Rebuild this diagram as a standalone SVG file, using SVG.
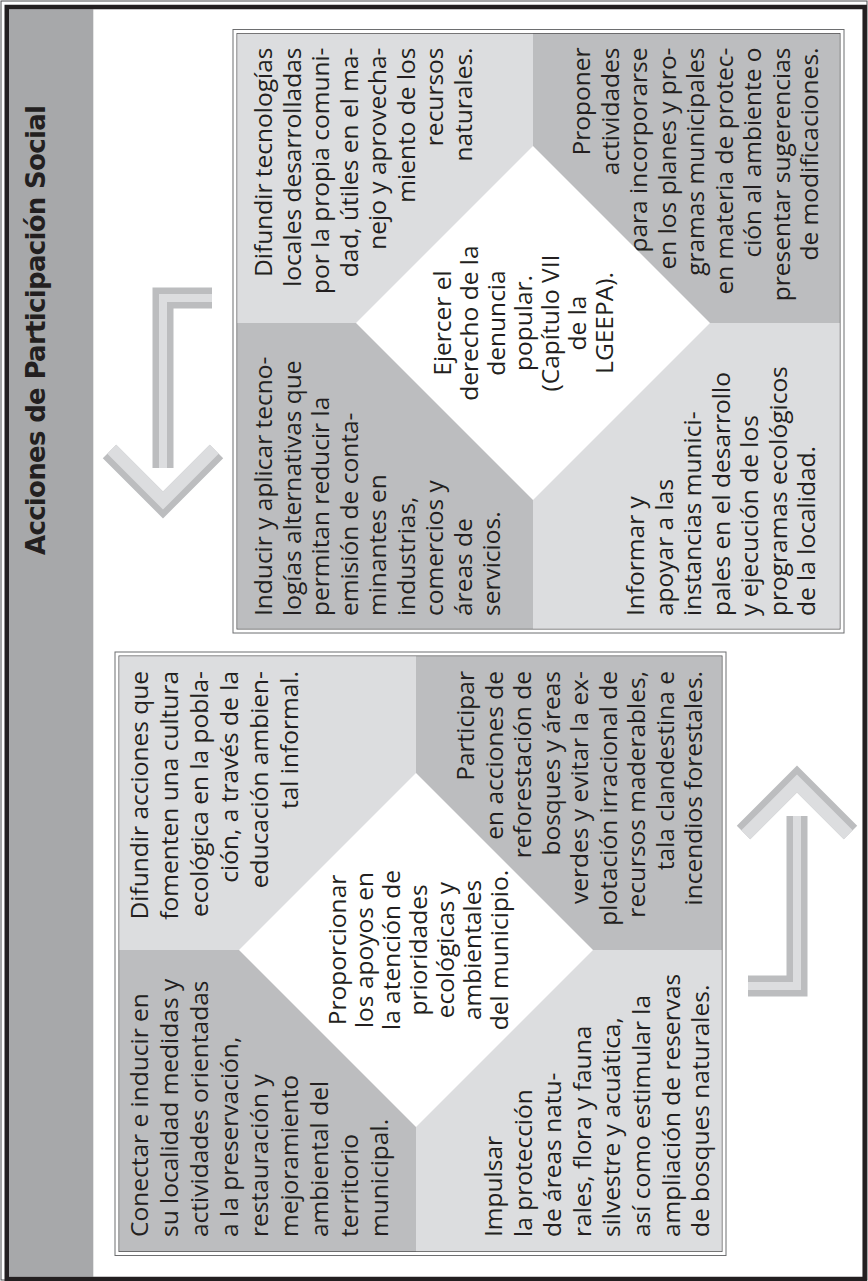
<svg xmlns="http://www.w3.org/2000/svg" xmlns:xlink="http://www.w3.org/1999/xlink" width="868" height="1281" viewBox="0 0 868 1281">
<defs>
<style>
.t{font-family:"Open Sans","DejaVu Sans",sans-serif;font-size:24.5px;fill:#231f20}
.e{text-anchor:end}
.m{text-anchor:middle}
.ttl{font-family:"DejaVu Sans","Liberation Sans",sans-serif;font-size:26px;font-weight:bold;fill:#231f20;text-anchor:middle}
.dk{fill:#bcbdbf}
.lt{fill:#dcdddf}
.wd{fill:#ffffff}
.ob{fill:none;stroke:#6d6e70;stroke-width:1}
.ib{fill:none;stroke:#414042;stroke-width:1.3}
.ad{fill:none;stroke:#bcbdbf;stroke-linejoin:miter}
.al{fill:none;stroke:#dcdddf;stroke-linejoin:miter}
</style>
<g id="arr">
<polyline class="ad" stroke-width="19" points="743.5,832.5 797,779 850.5,832.5"/>
<polyline class="al" stroke-width="12.6" points="745.8,834.8 797,783.5 848.2,834.8"/>
<path class="ad" stroke-width="21" d="M748,986H797V816"/>
<path class="al" stroke-width="8" d="M748,986H797V816"/>
</g>
</defs>
<rect x="0" y="0" width="868" height="1281" fill="#ffffff"/>
<rect x="9" y="9.25" width="84.3" height="1267.5" fill="#a7a8aa"/>
<rect x="1" y="1" width="866" height="1279" fill="none" stroke="#4d4d4f" stroke-width="1"/>
<rect x="6.75" y="7" width="857.95" height="1272" fill="none" stroke="#231f20" stroke-width="4.5"/>
<g id="title" transform="translate(0,1281) rotate(-90)">
<text class="ttl" x="951" y="45" textLength="450" lengthAdjust="spacing">Acciones de Participación Social</text>
</g>

<g id="box-top">
<rect class="ob" x="233" y="29.5" width="611" height="603.5"/>
<rect class="ib" x="237.2" y="33.7" width="602.6" height="595.1"/>
<g id="node-difundir-tecnologias">
<rect class="lt" x="237.2" y="33.7" width="295.8" height="289.3"/>
<text class="t e" transform="translate(0,1281) rotate(-90)"><tspan x="1233.5" y="272">Difundir tecnologías</tspan><tspan x="1233.5" y="300.5">locales desarrolladas</tspan><tspan x="1233.5" y="329">por la propia comuni-</tspan><tspan x="1233.5" y="357.5">dad, útiles en el ma-</tspan><tspan x="1233.5" y="386">nejo y aprovecha-</tspan><tspan x="1233.5" y="414.5">miento de los</tspan><tspan x="1233.5" y="443">recursos</tspan><tspan x="1233.5" y="471.5">naturales.</tspan></text>
</g>
<g id="node-proponer">
<rect class="dk" x="533" y="33.7" width="306.8" height="289.3"/>
<text class="t e" transform="translate(0,1281) rotate(-90)"><tspan x="1233.5" y="590">Proponer</tspan><tspan x="1233.5" y="618.5">actividades</tspan><tspan x="1233.5" y="647">para incorporarse</tspan><tspan x="1233.5" y="675.5">en los planes y pro-</tspan><tspan x="1233.5" y="704">gramas municipales</tspan><tspan x="1233.5" y="732.5">en materia de protec-</tspan><tspan x="1233.5" y="761">ción al ambiente o</tspan><tspan x="1233.5" y="789.5">presentar sugerencias</tspan><tspan x="1233.5" y="818">de modificaciones.</tspan></text>
</g>
<g id="node-inducir">
<rect class="dk" x="237.2" y="323" width="295.8" height="305.8"/>
<text class="t" transform="translate(0,1281) rotate(-90)"><tspan x="665" y="272">Inducir y aplicar tecno-</tspan><tspan x="665" y="300.5">logías alternativas que</tspan><tspan x="665" y="329">permitan reducir la</tspan><tspan x="665" y="357.5">emisión de conta-</tspan><tspan x="665" y="386">minantes en</tspan><tspan x="665" y="414.5">industrias,</tspan><tspan x="665" y="443">comercios y</tspan><tspan x="665" y="471.5">áreas de</tspan><tspan x="665" y="500">servicios.</tspan></text>
</g>
<g id="node-informar">
<rect class="lt" x="533" y="323" width="306.8" height="305.8"/>
<text class="t" transform="translate(0,1281) rotate(-90)"><tspan x="665" y="644">Informar y</tspan><tspan x="665" y="672.5">apoyar a las</tspan><tspan x="665" y="701">instancias munici-</tspan><tspan x="665" y="729.5">pales en el desarrollo</tspan><tspan x="665" y="758">y ejecución de los</tspan><tspan x="665" y="786.5">programas ecológicos</tspan><tspan x="665" y="815">de la localidad.</tspan></text>
</g>
<g id="node-ejercer">
<polygon class="wd" points="356,323 533,146 710,323 533,500"/>
<text class="t m" transform="translate(0,1281) rotate(-90)"><tspan x="958" y="451">Ejercer el</tspan><tspan x="958" y="478">derecho de la</tspan><tspan x="958" y="505">denuncia</tspan><tspan x="958" y="532">popular.</tspan><tspan x="958" y="559">(Capítulo VII</tspan><tspan x="958" y="586">de la</tspan><tspan x="958" y="613">LGEEPA).</tspan></text>
</g>
</g>

<g id="box-bottom">
<rect class="ob" x="115" y="652" width="611" height="603.5"/>
<rect class="ib" x="119.2" y="656.2" width="602.6" height="595.1"/>
<g id="node-difundir-acciones">
<rect class="lt" x="119.2" y="656.2" width="296.8" height="293.8"/>
<text class="t e" transform="translate(0,1281) rotate(-90)"><tspan x="610" y="148">Difundir acciones que</tspan><tspan x="610" y="178">fomenten una cultura</tspan><tspan x="610" y="208">ecológica en la pobla-</tspan><tspan x="610" y="238">ción, a través de la</tspan><tspan x="610" y="268">educación ambien-</tspan><tspan x="610" y="298">tal informal.</tspan></text>
</g>
<g id="node-participar">
<rect class="dk" x="416" y="656.2" width="305.8" height="293.8"/>
<text class="t e" transform="translate(0,1281) rotate(-90)"><tspan x="610" y="474">Participar</tspan><tspan x="610" y="502.5">en acciones de</tspan><tspan x="610" y="531">reforestación de</tspan><tspan x="610" y="559.5">bosques y áreas</tspan><tspan x="610" y="588">verdes y evitar la ex-</tspan><tspan x="610" y="616.5">plotación irracional de</tspan><tspan x="610" y="645">recursos maderables,</tspan><tspan x="610" y="673.5">tala clandestina e</tspan><tspan x="610" y="702">incendios forestales.</tspan></text>
</g>
<g id="node-conectar">
<rect class="dk" x="119.2" y="950" width="296.8" height="301.3"/>
<text class="t" transform="translate(0,1281) rotate(-90)"><tspan x="44" y="148">Conectar e inducir en</tspan><tspan x="44" y="178">su localidad medidas y</tspan><tspan x="44" y="208">actividades orientadas</tspan><tspan x="44" y="238">a la preservación,</tspan><tspan x="44" y="268">restauración y</tspan><tspan x="44" y="298">mejoramiento</tspan><tspan x="44" y="328">ambiental del</tspan><tspan x="44" y="358">territorio</tspan><tspan x="44" y="388">municipal.</tspan></text>
</g>
<g id="node-impulsar">
<rect class="lt" x="416" y="950" width="305.8" height="301.3"/>
<text class="t" transform="translate(0,1281) rotate(-90)"><tspan x="44" y="502">Impulsar</tspan><tspan x="44" y="531.6">la protección</tspan><tspan x="44" y="561.2">de áreas natu-</tspan><tspan x="44" y="590.8">rales, flora y fauna</tspan><tspan x="44" y="620.4">silvestre y acuática,</tspan><tspan x="44" y="650">así como estimular la</tspan><tspan x="44" y="679.6">ampliación de reservas</tspan><tspan x="44" y="709.2">de bosques naturales.</tspan></text>
</g>
<g id="node-proporcionar">
<polygon class="wd" points="239,950 416,773 593,950 416,1127"/>
<text class="t m" transform="translate(0,1281) rotate(-90)"><tspan x="331" y="346">Proporcionar</tspan><tspan x="331" y="373">los apoyos en</tspan><tspan x="331" y="400">la atención de</tspan><tspan x="331" y="427">prioridades</tspan><tspan x="331" y="454">ecológicas y</tspan><tspan x="331" y="481">ambientales</tspan><tspan x="331" y="508">del municipio.</tspan></text>
</g>
</g>

<g id="connectors">
<use xlink:href="#arr" href="#arr"/>
<use xlink:href="#arr" href="#arr" transform="rotate(180 480 642)"/>
</g>
</svg>
